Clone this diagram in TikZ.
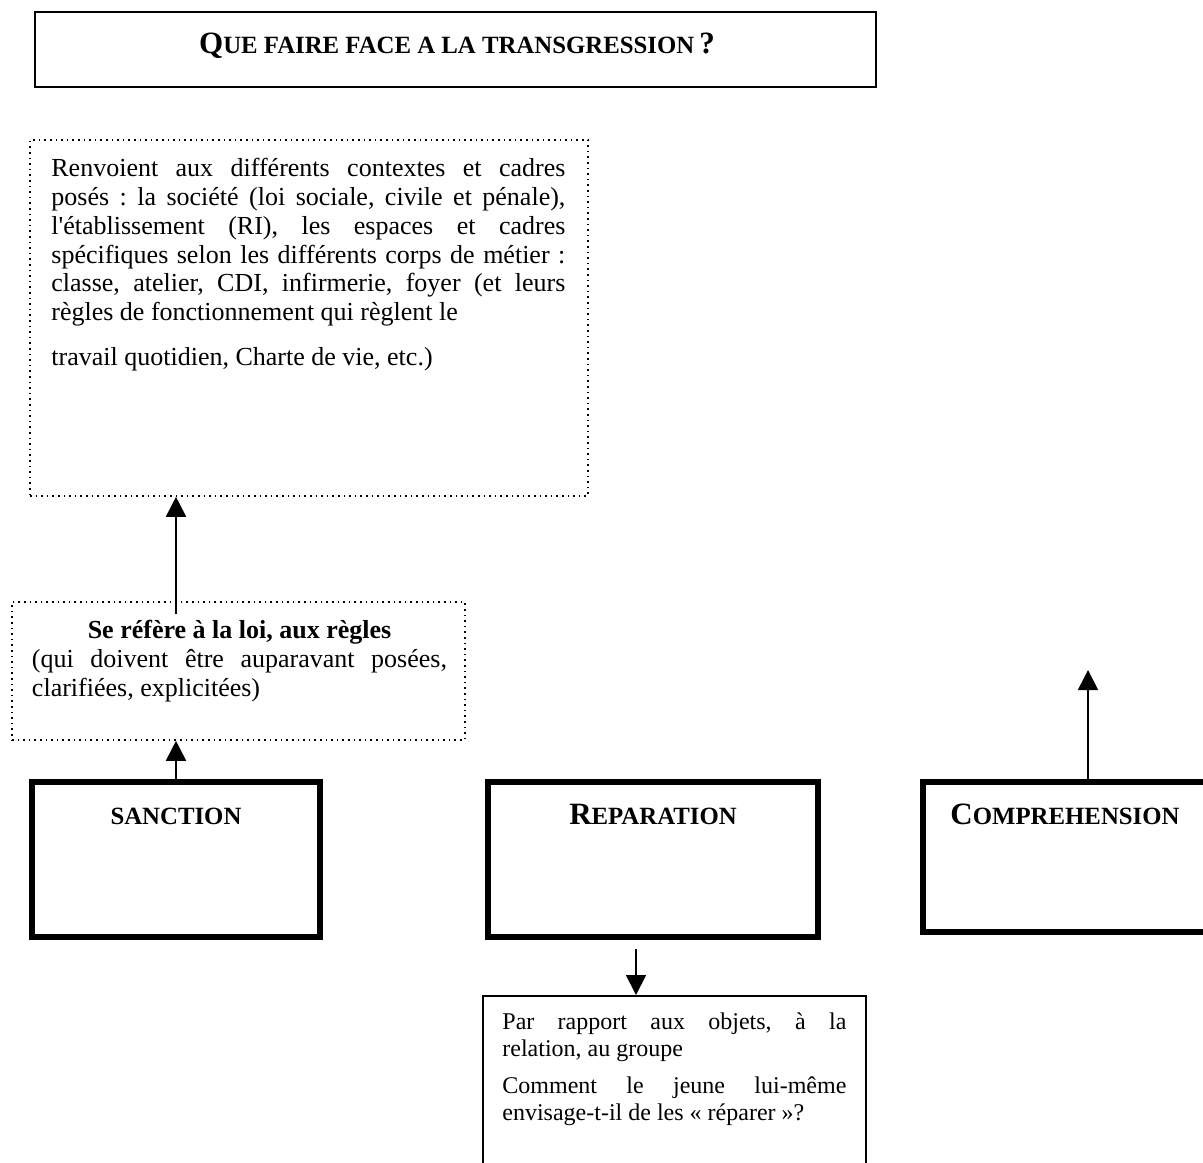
\documentclass[tikz,border=0pt]{standalone}
\usepackage{fontspec}
\setmainfont{Liberation Serif}
\usetikzlibrary{arrows.meta,calc,fit}
\frenchspacing
% petites capitales simulees : initiale + reste plus petit
\newcommand\scbig[1]{{\fontsize{15.5}{18}\selectfont #1}}
\newcommand\scsmall[1]{{\fontsize{12.4}{18}\selectfont #1}}

\begin{document}
\begin{tikzpicture}[x=.5pt,y=-.5pt,
  titlebox/.style={draw,line width=1pt,inner sep=0pt},
  dotbox/.style={draw,dotted,line width=.8pt,inner sep=0pt},
  heavybox/.style={draw,line width=3pt,inner sep=0pt},
  plainbox/.style={draw,line width=1pt,inner sep=0pt},
  body/.style={inner sep=0pt,align=justify,font=\fontsize{13}{14.4}\selectfont},
  smallbody/.style={inner sep=0pt,align=justify,font=\fontsize{12}{13.6}\selectfont},
  boxlabel/.style={inner sep=0pt,anchor=base,font=\bfseries},
  arr/.style={line width=.9pt,-{Triangle[length=10pt,width=10pt]}}
]
\useasboundingbox (0,0) rectangle (1203,1162);

% titre
\node[titlebox,fit={(35,12) (876,87)}] (titre) {};
\node[boxlabel] (titretxt) at (457,53)
  {\scbig{Q}\scsmall{UE FAIRE FACE A LA TRANSGRESSION} \scbig{?}};

% cadres et regles
\node[dotbox,fit={(30,140) (588,496)}] (cadres) {};
\node[body,text width=257pt,anchor=north west] (cadrestxt) at (51,158)
  {Renvoient aux différents contextes et cadres\linebreak
   posés : la société (loi sociale, civile et pénale),\linebreak
   l\textquotesingle établissement (RI), les espaces et cadres\linebreak
   spécifiques selon les différents corps de métier :\linebreak
   classe, atelier, CDI, infirmerie, foyer (et leurs\linebreak
   règles de fonctionnement qui règlent le\par\vspace{8pt}
   travail quotidien, Charte de vie, etc.)};

\node[dotbox,fit={(12,602) (465,740)}] (refere) {};
\node[body,text width=207.5pt,anchor=north] (referetxt) at (239.5,620)
  {{\centering\bfseries Se réfère à la loi, aux règles\par}
   (qui doivent être auparavant posées,\linebreak
   clarifiées, explicitées)};

% les trois reponses
\node[heavybox,fit={(32,782) (320,937)}] (sanction) {};
\node[boxlabel] (sanctiontxt) at (176,824) {\scsmall{SANCTION}};

\node[heavybox,fit={(488,782) (818,937)}] (reparation) {};
\node[boxlabel] (reparationtxt) at (653,824) {\scbig{R}\scsmall{EPARATION}};

\node[heavybox,fit={(923,782) (1207,932)}] (comprehension) {};
\node[boxlabel] (comprehensiontxt) at (1065,824) {\scbig{C}\scsmall{OMPREHENSION}};

\node[plainbox,fit={(483,996) (866,1180)}] (objets) {};
\node[smallbody,text width=172pt,anchor=north west] (objetstxt) at (502,1012)
  {Par rapport aux objets, à la\linebreak
   relation, au groupe\par\vspace{5pt}
   Comment le jeune lui-même\linebreak
   envisage-t-il de les «~réparer~»?};

% fleches
\coordinate (repstart) at (636,949);
\coordinate (comptip) at (1088,670);
\draw[arr] (sanction.north) -- (sanction.north |- refere.south);
\draw[arr] ($(sanction.north |- refere.north)+(0,13)$) -- (sanction.north |- cadres.south);
\draw[arr] (repstart) -- (repstart |- objets.north);
\draw[arr] (comptip |- comprehension.north) -- (comptip);
\end{tikzpicture}
\end{document}
